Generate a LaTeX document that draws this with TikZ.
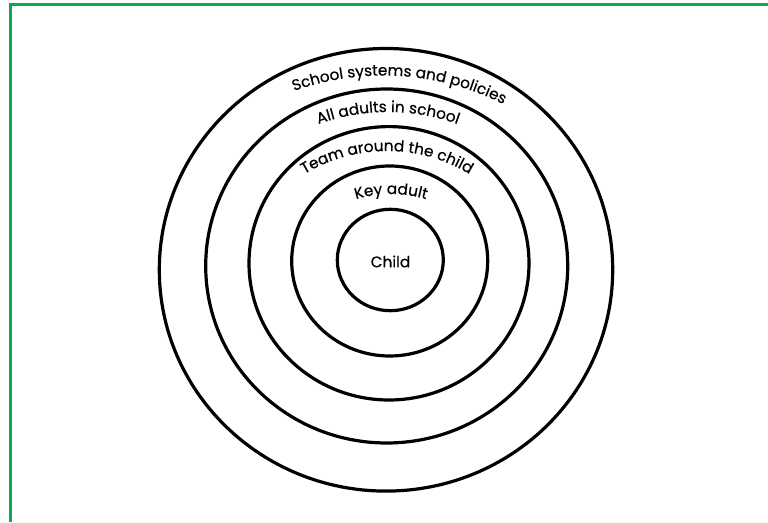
\documentclass[tikz,border=0pt]{standalone}
\usepackage{fontspec}
\setmainfont[FakeBold=0.5]{Poppins}
\usetikzlibrary{decorations.text,calc}
\definecolor{framegreen}{RGB}{18,166,80}
\newcommand\lblfont{\fontsize{15.3}{18}\selectfont}
\begin{document}
\begin{tikzpicture}[x=1pt,y=1pt,
  ring/.style={line width=3.2pt, draw=black},
  frameline/.style={line width=2.7pt, draw=framegreen},
  lbl/.style={decorate, decoration={text along path, text align=center,
     text format delimiters={|}{|}, text={#1}}}
]
\useasboundingbox (0,0) rectangle (768,522);
\fill[white] (0,0) rectangle (768,522);
% frame
\coordinate (ftl) at (9,517.3);
\coordinate (ftr) at (768,517.3);
\coordinate (fl) at (10.3,518.6);
\coordinate (fb) at (10.3,0);
\draw[frameline] (ftl) -- (ftr);
\draw[frameline] (fl) -- (fb);
% rings
\coordinate (c1) at (386,252.2);
\coordinate (c2) at (386.7,256);
\coordinate (c3) at (389,258.7);
\coordinate (c4) at (389.7,261);
\coordinate (c5) at (390.3,262);
\draw[ring] (c1) ellipse [x radius=226.7pt, y radius=221.3pt];
\draw[ring] (c2) ellipse [x radius=181pt, y radius=177pt];
\draw[ring] (c3) ellipse [x radius=140pt, y radius=136.7pt];
\draw[ring] (c4) ellipse [x radius=98pt, y radius=95pt];
\draw[ring] (c5) ellipse [x radius=53pt, y radius=50.7pt];
\node[font=\lblfont, inner sep=0pt] (child) at (390.5,260.5) {Child};
% curved labels
\coordinate (a1) at (383.4,181.3);
\coordinate (a2) at (388,204);
\coordinate (a3) at (387,212);
\coordinate (a4) at (391,208);
\path[lbl={|\lblfont|School systems and policies}] ($(a1)+(126.4:265.2)$) arc[start angle=126.4, end angle=46.4, radius=265.2pt];
\path[lbl={|\lblfont|All adults in school}] ($(a2)+(130:206)$) arc[start angle=130, end angle=50, radius=206pt];
\path[lbl={|\lblfont|Team around the child}] ($(a3)+(140:159)$) arc[start angle=140, end angle=40, radius=159pt];
\path[lbl={|\lblfont|Key adult}] ($(a4)+(130:120)$) arc[start angle=130, end angle=50, radius=120pt];
\end{tikzpicture}
\end{document}
